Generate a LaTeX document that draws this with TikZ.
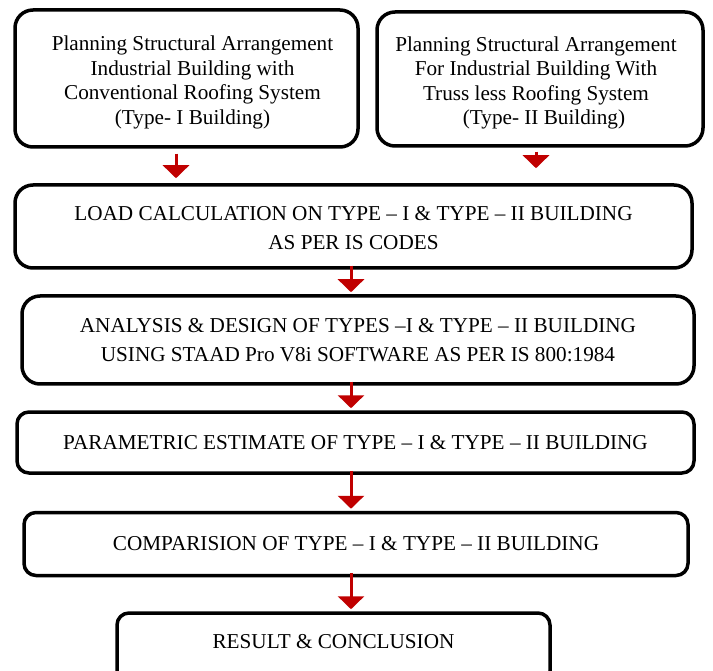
\documentclass[tikz,border=0pt]{standalone}
\usepackage{fontspec}
\setmainfont{Liberation Serif}
\usetikzlibrary{arrows.meta}
\definecolor{arrred}{HTML}{C00000}
\tikzset{
  boxnode/.style={draw=black, line width=3.5pt, rounded corners=18pt, align=center, inner sep=0pt},
  txt/.style={align=center, inner sep=0pt},
  arr/.style={draw=arrred, line width=3pt, -{Triangle[width=26pt,length=13pt]}, shorten <=-4pt, shorten >=2pt},
}
\begin{document}
\begin{tikzpicture}[x=1pt,y=-1pt, font=\fontsize{21.2}{24.5}\selectfont]
\useasboundingbox (0,0) rectangle (713,671);
\clip (0,0) rectangle (713,671);
\node[boxnode, minimum width=343pt, minimum height=137pt] (b1) at (186.5,78.5) {};
\node[txt] (t1) at (192.5,82.5)
  {Planning Structural Arrangement\\Industrial Building with\\Conventional Roofing System\\(Type- I Building)};
\node[boxnode, minimum width=326pt, minimum height=134pt] (b2) at (540,79) {};
\node[txt] (t2) at (536,83)
  {Planning Structural Arrangement\\For Industrial Building With\\Truss less Roofing System\\\hspace*{16pt}(Type- II Building)};
\node[boxnode, minimum width=677pt, minimum height=83pt] (b3) at (353.5,226.5) {};
\node[txt] (t3) at (353.5,228.5)
  {LOAD CALCULATION ON TYPE -- I \& TYPE -- II BUILDING\\[4.5pt]AS PER IS CODES};
\node[boxnode, minimum width=672pt, minimum height=88pt] (b4) at (358,340)
  {ANALYSIS \& DESIGN OF TYPES --I \& TYPE -- II BUILDING\\[4.5pt]USING STAAD Pro V8i SOFTWARE AS PER IS 800:1984};
\node[boxnode, rounded corners=12pt, minimum width=677pt, minimum height=61pt] (b5) at (355.5,442.5)
  {PARAMETRIC ESTIMATE OF TYPE -- I \& TYPE -- II BUILDING};
\node[boxnode, rounded corners=12pt, minimum width=664pt, minimum height=63pt] (b6) at (356,544)
  {COMPARISION OF TYPE -- I \& TYPE -- II BUILDING};
\node[boxnode, rounded corners=12pt, minimum width=433pt, minimum height=70pt] (b7) at (333.5,648) {};
\node[txt] (t7) at (333.5,642) {RESULT \& CONCLUSION};
\coordinate (s1) at ([xshift=-10.5pt]b1.south);
\coordinate (s2) at ([xshift=-4pt]b2.south);
\coordinate (s3) at ([xshift=-2.5pt]b3.south);
\coordinate (s4) at ([xshift=-7pt]b4.south);
\coordinate (s5) at ([xshift=-4.5pt]b5.south);
\coordinate (s6) at ([xshift=-5pt]b6.south);
\draw[arr, shorten <=5pt, shorten >=5pt] (s1) -- (s1 |- b3.north);
\draw[arr, shorten <=4pt, shorten >=15pt] (s2) -- (s2 |- b3.north);
\draw[arr] (s3) -- (s3 |- b4.north);
\draw[arr] (s4) -- (s4 |- b5.north);
\draw[arr] (s5) -- (s5 |- b6.north);
\draw[arr] (s6) -- (s6 |- b7.north);
\end{tikzpicture}
\end{document}
